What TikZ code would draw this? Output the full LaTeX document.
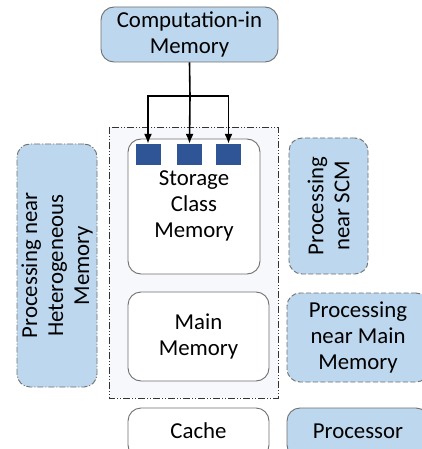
\documentclass[tikz,border=0pt]{standalone}
\usepackage{fontspec}
\setmainfont{Carlito}
\usetikzlibrary{arrows.meta}
\definecolor{paleblue}{HTML}{BDD7EE}
\definecolor{darkblue}{HTML}{2F5597}
\definecolor{edgegray}{HTML}{6F6F6F}
\definecolor{wrapfill}{HTML}{F6F8FC}

\begin{document}
\begin{tikzpicture}[x=1pt,y=-1pt,
    every node/.style={font=\fontsize{22.8}{26}\selectfont, align=center, inner sep=0pt},
    memblock/.style={draw=edgegray, line width=0.9pt, rounded corners=13pt, fill=white},
    procblock/.style={draw=edgegray, line width=0.9pt, rounded corners=13pt, fill=paleblue},
    nearblock/.style={procblock, dashed, dash pattern=on 5pt off 2.5pt},
    cell/.style={fill=darkblue, minimum width=25pt, minimum height=21pt},
    feed/.style={line width=1.6pt, -{Latex[length=10pt,width=8pt]}}]
    \clip (0,0) rectangle (422,449);
    \fill[white] (0,0) rectangle (422,449);

    % dash-dot frame round the memories
    \draw[black!80, line width=0.8pt, fill=wrapfill, dash pattern=on 7pt off 2pt on 1pt off 2pt on 1pt off 2pt] (109,127) rectangle (278,398);

    \node[procblock, minimum width=177pt, minimum height=55pt] (cim) at (189.5,34.5) {Computation-in\\Memory};

    \node[memblock, minimum width=132pt, minimum height=135pt] (scm) at (194,206.5) {};
    \node (scmtext) at (194,206) {Storage\\Class\\Memory};
    \node[cell] (cella) at (148,154.5) {};
    \node[cell] (cellb) at (189.5,154.5) {};
    \node[cell] (cellc) at (228.5,154.5) {};

    \node[memblock, minimum width=141pt, minimum height=89pt] (mainmem) at (198.5,336.5) {Main\\Memory};
    \node[memblock, minimum width=141pt, minimum height=50pt] (cache) at (198.5,433) {};
    \node (cachetext) at (198.5,431) {Cache};

    \node[nearblock, minimum width=79pt, minimum height=136pt] (nearscm) at (328.5,206) {};
    \node[rotate=90] (nearscmtext) at (328.5,206) {Processing\\near SCM};
    \node[nearblock, minimum width=142pt, minimum height=89pt] (nearmain) at (358,337.5) {Processing\\near Main\\Memory};
    \node[procblock, minimum width=142pt, minimum height=50pt] (proc) at (358,433) {};
    \node (proctext) at (358,431) {Processor};

    \node[procblock, dash pattern=on 6pt off 2pt on 1pt off 2pt, minimum width=80pt, minimum height=243pt] (nearhet) at (57,265.5) {};
    \node[rotate=90] (nearhettext) at (57,265.5) {Processing near\\Heterogeneous\\Memory};

    % feeds from the CIM block
    \coordinate (split) at (190,96);
    \draw[line width=1.6pt] (cim.south) -- (split);
    \draw[feed] (split) -| (cella.north);
    \draw[feed] (split) -- (cellb.north);
    \draw[feed] (split) -| (cellc.north);
\end{tikzpicture}
\end{document}
